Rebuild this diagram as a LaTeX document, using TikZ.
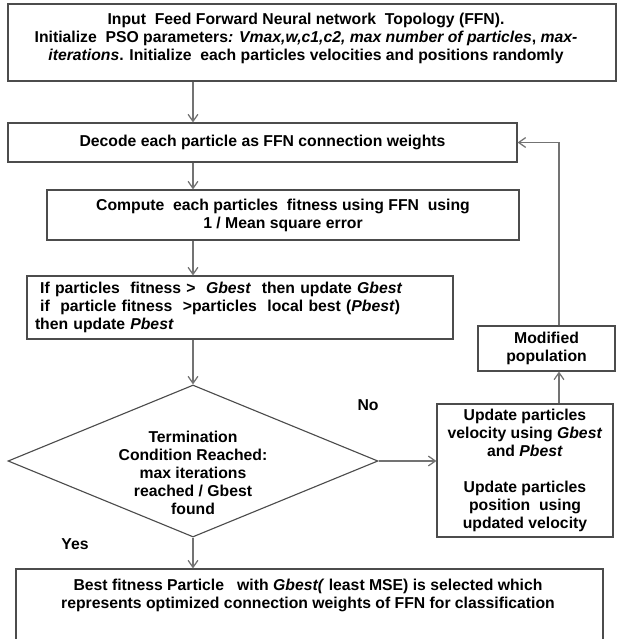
\documentclass[tikz,border=0pt]{standalone}
\usepackage{fontspec}
\setmainfont{Liberation Sans}
\usetikzlibrary{arrows.meta,shapes.geometric}
\newdimen\px \px=0.025cm

\begin{document}
\begin{tikzpicture}[x=0.025cm,y=-0.025cm,font=\fontsize{11.2}{12.8}\selectfont\bfseries]
\tikzstyle{box}=[rectangle,draw=black!70,line width=0.8pt,inner sep=0pt,align=center]
\tikzstyle{decision}=[diamond,draw=black!70,line width=0.8pt,inner sep=0pt,aspect=2.43]
\tikzstyle{plain}=[inner sep=0pt,align=center]
\tikzstyle{link}=[draw=black!55,line width=0.9pt,-{Straight Barb[length=5pt,width=7pt]}]

\useasboundingbox (0,0) rectangle (617,639);

\coordinate (main) at (193,0);
\coordinate (turn) at (559,142.5);

\node[box, minimum width = 608\px, minimum height = 77\px] (input) at (312,42.5) {};
\node[plain] (inputtext) at (306,38) {Input\ \ Feed Forward Neural network\ \ Topology (FFN).\\
  Initialize\ \ PSO parameters\textit{: Vmax,w,c1,c2, max number of particles}, \textit{max-}\\
  \textit{iterations}. Initialize\ \ each particles velocities and positions randomly};

\node[box, minimum width = 509\px, minimum height = 39\px] (decode) at (262.5,142.5)
  {Decode each particle as FFN connection weights};

\node[box, minimum width = 472\px, minimum height = 50\px] (compute) at (283,215)
  {Compute\ \ each particles\ \ fitness using FFN\ \ using\\1 / Mean square error};

\node[box, minimum width = 426\px, minimum height = 63\px, align=left,
    text width = 410\px] (compare) at (240,307.5)
  {\ If particles\ \ fitness >\ \ \textit{Gbest}\ \ then update \textit{Gbest}\\
   \ if\ \ particle fitness\ \ >particles\ \ local best (\textit{Pbest})\\
   then update \textit{Pbest}};

\node[decision, minimum width = 370\px, minimum height = 152\px] (cond) at (193,461) {};
\node[plain] (condtext) at (193,473)
  {Termination\\Condition Reached:\\max iterations\\reached / Gbest\\found};

\node[box, minimum width = 176\px, minimum height = 133\px] (upd) at (525,470.5)
  {Update particles\\velocity using \textit{Gbest}\\and \textit{Pbest}\\[12.8pt]
   Update particles\\position\ \ using\\updated velocity};

\node[box, minimum width = 137\px, minimum height = 45\px] (modpop) at (546.5,348.5)
  {Modified\\population};

\node[box, minimum width = 587\px, minimum height = 100\px] (best) at (309.5,619) {};
\node[plain] (besttext) at (308,595)
  {Best fitness Particle\ \ \ with \textit{Gbest(} least MSE) is selected which\\
   represents optimized connection weights of FFN for classification};

\node[plain] (no) at (368,405) {No};
\node[plain] (yes) at (75,544) {Yes};

% connectors
\draw[link] (input.south -| main) -- (decode.north -| main);
\draw[link] (decode.south -| main) -- (compute.north -| main);
\draw[link] (compute.south -| main) -- (compare.north -| main);
\draw[link] (compare.south -| main) -- (cond.north);
\draw[link] (cond.east) -- (upd.west |- cond.east);
\draw[link] (upd.north -| turn) -- (modpop.south -| turn);
\draw[link] (modpop.north -| turn) -- (turn) -- (decode.east);
\draw[link] (cond.south) -- (best.north -| cond.south);
\end{tikzpicture}
\end{document}
